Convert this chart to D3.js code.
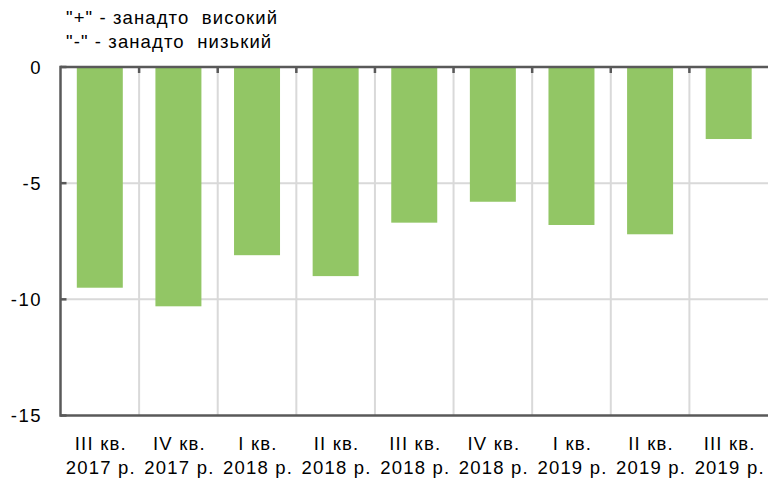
<!DOCTYPE html>
<html>
<head>
<meta charset="utf-8">
<script src="https://cdn.jsdelivr.net/npm/d3@7"></script>
<style>
  body { margin: 0; background: #fff; }
  svg text { font-family: "Liberation Sans", Arial, sans-serif; fill: #000; }
</style>
</head>
<body>
<div id="chart"></div>
<script>
// data
var quarters = ["III кв.", "IV кв.", "I кв.", "II кв.", "III кв.", "IV кв.", "I кв.", "II кв.", "III кв."];
var years = ["2017 р.", "2017 р.", "2018 р.", "2018 р.", "2018 р.", "2018 р.", "2019 р.", "2019 р.", "2019 р."];
var gapValues = [-9.5, -10.3, -8.1, -9.0, -6.7, -5.8, -6.8, -7.2, -3.1];
var yTicks = [0, -5, -10, -15];
var noteLines = ["\"+\" - занадто  високий", "\"-\" - занадто  низький"];

var width = 768,
  height = 478,
  margin = { top: 67, right: 0, bottom: 62.5, left: 60.5 };

var axisColor = "#595959",
  gridColor = "#d9d9d9",
  barColor = "#92c665";

var svg = d3.select("#chart")
  .append("svg")
  .attr("width", width)
  .attr("height", height);

var keys = d3.range(gapValues.length);

var x = d3.scaleBand()
  .domain(keys)
  .range([margin.left, width - margin.right])
  .padding(0);

var y = d3.scaleLinear()
  .domain([-15, 0])
  .range([height - margin.bottom, margin.top]);

var barW = x.bandwidth() * 0.585;

// horizontal grid
svg.append("g")
  .selectAll("line")
  .data(yTicks.filter(function(d) { return d !== 0 && d !== -15; }))
  .enter()
  .append("line")
  .attr("x1", margin.left)
  .attr("x2", width)
  .attr("y1", function(d) { return y(d); })
  .attr("y2", function(d) { return y(d); })
  .attr("stroke", gridColor)
  .attr("stroke-width", 2);

// vertical grid at category boundaries
svg.append("g")
  .selectAll("line")
  .data(keys.slice(1))
  .enter()
  .append("line")
  .attr("x1", function(d) { return x(d); })
  .attr("x2", function(d) { return x(d); })
  .attr("y1", y(0))
  .attr("y2", y(-15))
  .attr("stroke", gridColor)
  .attr("stroke-width", 2);

// bars
svg.append("g")
  .selectAll("rect")
  .data(gapValues)
  .enter()
  .append("rect")
  .attr("x", function(d, i) { return x(i) + (x.bandwidth() - barW) / 2; })
  .attr("y", y(0) + 1)
  .attr("width", barW)
  .attr("height", function(d) { return y(d) - y(0) - 1; })
  .attr("fill", barColor);

// axes lines
var axes = svg.append("g")
  .attr("stroke", axisColor)
  .attr("stroke-width", 2.5);

axes.append("line")
  .attr("x1", margin.left).attr("x2", width)
  .attr("y1", y(0)).attr("y2", y(0));

axes.append("line")
  .attr("x1", margin.left).attr("x2", width)
  .attr("y1", y(-15)).attr("y2", y(-15));

axes.append("line")
  .attr("x1", margin.left).attr("x2", margin.left)
  .attr("y1", y(0) - 1.25).attr("y2", y(-15) + 1.25);

// tick marks on the category axis (at 0)
axes.selectAll(".xtick")
  .data(keys.slice(1))
  .enter()
  .append("line")
  .attr("class", "xtick")
  .attr("x1", function(d) { return x(d); })
  .attr("x2", function(d) { return x(d); })
  .attr("y1", y(0))
  .attr("y2", y(0) + 6);

// tick marks on the value axis
axes.selectAll(".ytick")
  .data(yTicks)
  .enter()
  .append("line")
  .attr("class", "ytick")
  .attr("x1", margin.left)
  .attr("x2", margin.left + 6)
  .attr("y1", function(d) { return y(d); })
  .attr("y2", function(d) { return y(d); });

// y labels
svg.append("g")
  .selectAll("text")
  .data(yTicks)
  .enter()
  .append("text")
  .attr("x", 42)
  .attr("y", function(d) { return y(d); })
  .attr("dy", "0.36em")
  .attr("text-anchor", "end")
  .style("font-size", "18.5px")
  .style("letter-spacing", "1.5px")
  .text(function(d) { return d; });

// category labels
var cat = svg.append("g")
  .selectAll("text")
  .data(keys)
  .enter()
  .append("text")
  .attr("text-anchor", "middle")
  .style("font-size", "18.5px")
  .style("letter-spacing", "1.2px");

cat.append("tspan")
  .attr("x", function(d) { return x(d) + x.bandwidth() / 2 + 1; })
  .attr("y", 450)
  .text(function(d) { return quarters[d]; });

cat.append("tspan")
  .attr("x", function(d) { return x(d) + x.bandwidth() / 2 + 1; })
  .attr("y", 474)
  .text(function(d) { return years[d]; });

// note
svg.append("g")
  .selectAll("text")
  .data(noteLines)
  .enter()
  .append("text")
  .attr("x", 66)
  .attr("y", function(d, i) { return 24 + i * 24; })
  .style("font-size", "18.5px")
  .style("letter-spacing", "1.1px")
  .style("white-space", "pre")
  .attr("xml:space", "preserve")
  .text(function(d) { return d; });
</script>
</body>
</html>
